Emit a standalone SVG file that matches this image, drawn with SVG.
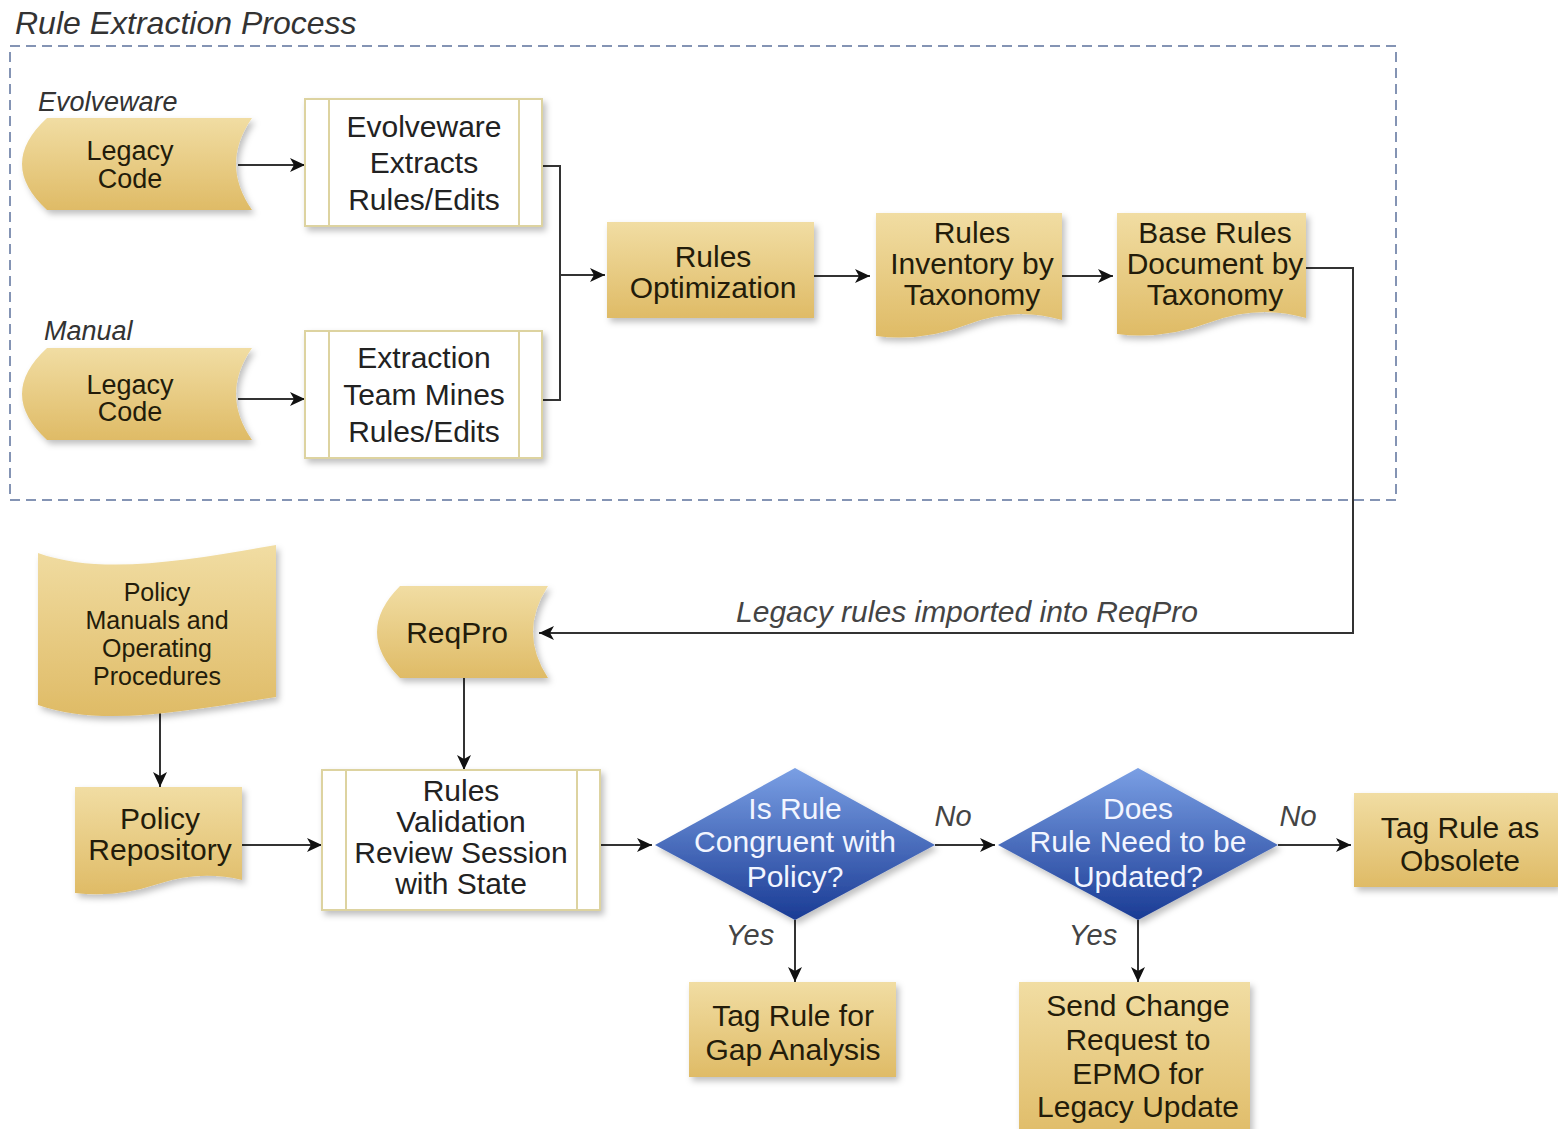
<svg xmlns="http://www.w3.org/2000/svg" width="1558" height="1129" viewBox="0 0 1558 1129">
  <style>
    text { font-family: "Liberation Sans", Arial, sans-serif; text-anchor: middle; }
    .gold { fill: url(#goldGrad); filter: url(#shadow); }
    .proc { fill: #ffffff; stroke: #ddd3a0; stroke-width: 2; filter: url(#shadow); }
    .procline { stroke: #ddd3a0; stroke-width: 2; fill: none; }
    .dia { fill: url(#blueGrad); filter: url(#shadow); }
    .t-gold { font-size: 30px; fill: #231c0a; }
    .t-proc { font-size: 30px; fill: #222222; }
    .t-dia { font-size: 30px; fill: #f2f5ff; }
    .lbl { font-size: 29px; font-style: italic; fill: #444444; }
    .lane { font-size: 27px; font-style: italic; fill: #333333; text-anchor: start; }
    .edge { stroke: #333333; stroke-width: 2; fill: none; }
  </style>
  <defs>
    <linearGradient id="goldGrad" x1="0" y1="0" x2="0" y2="1">
      <stop offset="0" stop-color="#f1dda3"/>
      <stop offset="1" stop-color="#dfbb66"/>
    </linearGradient>
    <linearGradient id="blueGrad" x1="0" y1="0" x2="0" y2="1">
      <stop offset="0" stop-color="#7a9fe4"/>
      <stop offset="1" stop-color="#1a3b94"/>
    </linearGradient>
    <filter id="shadow" x="-10%" y="-10%" width="125%" height="130%">
      <feDropShadow dx="3" dy="4" stdDeviation="3" flood-color="#000000" flood-opacity="0.25"/>
    </filter>
    <marker id="arrow" markerUnits="userSpaceOnUse" markerWidth="16" markerHeight="14" refX="15" refY="7" orient="auto">
      <path d="M0,0 L15,7 L0,14 L4,7 Z" fill="#111111"/>
    </marker>
  </defs>

  <!-- Title and container -->
  <text x="15" y="34" style="font-size:32px;font-style:italic;fill:#333;text-anchor:start">Rule Extraction Process</text>
  <rect id="container" x="10" y="46" width="1386" height="454" fill="none" stroke="#8494b4" stroke-width="2" stroke-dasharray="10 6"/>

  <text class="lane" x="38" y="111">Evolveware</text>
  <text class="lane" x="44" y="340">Manual</text>

  <!-- Connectors -->
  <g id="connectors">
    <line class="edge" x1="238" y1="165" x2="305" y2="165" marker-end="url(#arrow)"/>
    <line class="edge" x1="238" y1="399" x2="305" y2="399" marker-end="url(#arrow)"/>
    <path class="edge" d="M542,166 H560 V400 H542"/>
    <line class="edge" x1="560" y1="275" x2="605" y2="275" marker-end="url(#arrow)"/>
    <line class="edge" x1="814" y1="276" x2="870" y2="276" marker-end="url(#arrow)"/>
    <line class="edge" x1="1062" y1="276" x2="1113" y2="276" marker-end="url(#arrow)"/>
    <path class="edge" d="M1306,268 H1353 V633 H539" marker-end="url(#arrow)"/>
    <line class="edge" x1="464" y1="678" x2="464" y2="770" marker-end="url(#arrow)"/>
    <line class="edge" x1="160" y1="710" x2="160" y2="787" marker-end="url(#arrow)"/>
    <line class="edge" x1="242" y1="845" x2="322" y2="845" marker-end="url(#arrow)"/>
    <line class="edge" x1="600" y1="845" x2="652" y2="845" marker-end="url(#arrow)"/>
    <line class="edge" x1="935" y1="845" x2="995" y2="845" marker-end="url(#arrow)"/>
    <line class="edge" x1="1278" y1="845" x2="1351" y2="845" marker-end="url(#arrow)"/>
    <line class="edge" x1="795" y1="920" x2="795" y2="982" marker-end="url(#arrow)"/>
    <line class="edge" x1="1138" y1="920" x2="1138" y2="982" marker-end="url(#arrow)"/>
    <text class="lbl" style="font-size:30px" x="967" y="622">Legacy rules imported into ReqPro</text>
    <text class="lbl" x="953" y="826">No</text>
    <text class="lbl" x="1298" y="826">No</text>
    <text class="lbl" x="750" y="945">Yes</text>
    <text class="lbl" x="1093" y="945">Yes</text>
  </g>

  <!-- Stored data: legacy code (Evolveware) -->
  <g id="legacy-code-1">
    <path class="gold" d="M47,118 H252 Q220,164 252,210 H47 Q-3,164 47,118 Z"/>
    <text class="t-gold" style="font-size:27px" x="130" y="160">Legacy</text>
    <text class="t-gold" style="font-size:27px" x="130" y="188">Code</text>
  </g>

  <!-- Stored data: legacy code (Manual) -->
  <g id="legacy-code-2">
    <path class="gold" d="M47,348 H252 Q220,394 252,440 H47 Q-3,394 47,348 Z"/>
    <text class="t-gold" style="font-size:27px" x="130" y="394">Legacy</text>
    <text class="t-gold" style="font-size:27px" x="130" y="421">Code</text>
  </g>

  <g id="evolveware-extracts">
    <rect class="proc" x="305" y="99" width="237" height="127"/>
    <path class="procline" d="M329,99 V226 M519,99 V226"/>
    <text class="t-proc" x="424" y="137">Evolveware</text>
    <text class="t-proc" x="424" y="173">Extracts</text>
    <text class="t-proc" x="424" y="210">Rules/Edits</text>
  </g>

  <g id="team-mines">
    <rect class="proc" x="305" y="331" width="237" height="127"/>
    <path class="procline" d="M329,331 V458 M519,331 V458"/>
    <text class="t-proc" x="424" y="368">Extraction</text>
    <text class="t-proc" x="424" y="405">Team Mines</text>
    <text class="t-proc" x="424" y="442">Rules/Edits</text>
  </g>

  <g id="rules-optimization">
    <rect class="gold" x="607" y="222" width="207" height="96"/>
    <text class="t-gold" x="713" y="267">Rules</text>
    <text class="t-gold" x="713" y="298">Optimization</text>
  </g>

  <g id="rules-inventory">
    <path class="gold" d="M876,213 H1062 V320 Q1015,306 969,324 T876,336 Z"/>
    <text class="t-gold" x="972" y="243">Rules</text>
    <text class="t-gold" x="972" y="274">Inventory by</text>
    <text class="t-gold" x="972" y="305">Taxonomy</text>
  </g>

  <g id="base-rules-document">
    <path class="gold" d="M1117,213 H1306 V318 Q1259,304 1211,322 T1117,334 Z"/>
    <text class="t-gold" x="1215" y="243">Base Rules</text>
    <text class="t-gold" x="1215" y="274">Document by</text>
    <text class="t-gold" x="1215" y="305">Taxonomy</text>
  </g>

  <g id="policy-manuals">
    <path class="gold" d="M38,553 C100,575 180,562 276,545 V697 C180,712 100,727 38,705 Z"/>
    <text class="t-gold" style="font-size:25px" x="157" y="601">Policy</text>
    <text class="t-gold" style="font-size:25px" x="157" y="629">Manuals and</text>
    <text class="t-gold" style="font-size:25px" x="157" y="657">Operating</text>
    <text class="t-gold" style="font-size:25px" x="157" y="685">Procedures</text>
  </g>

  <g id="reqpro">
    <path class="gold" d="M400,586 H548 Q518,632 548,678 H400 Q354,632 400,586 Z"/>
    <text class="t-gold" x="457" y="643">ReqPro</text>
  </g>

  <g id="policy-repository">
    <path class="gold" d="M75,787 H242 V880 Q200,870 158,884 T75,893 Z"/>
    <text class="t-gold" x="160" y="829">Policy</text>
    <text class="t-gold" x="160" y="860">Repository</text>
  </g>

  <g id="rules-validation">
    <rect class="proc" x="322" y="770" width="278" height="140"/>
    <path class="procline" d="M346,770 V910 M577,770 V910"/>
    <text class="t-proc" x="461" y="801">Rules</text>
    <text class="t-proc" x="461" y="832">Validation</text>
    <text class="t-proc" x="461" y="863">Review Session</text>
    <text class="t-proc" x="461" y="894">with State</text>
  </g>

  <g id="congruent-decision">
    <path class="dia" d="M795,768 L935,845 L795,920 L655,845 Z"/>
    <text class="t-dia" x="795" y="819">Is Rule</text>
    <text class="t-dia" x="795" y="852">Congruent with</text>
    <text class="t-dia" x="795" y="887">Policy?</text>
  </g>

  <g id="update-decision">
    <path class="dia" d="M1138,768 L1278,845 L1138,920 L998,845 Z"/>
    <text class="t-dia" x="1138" y="819">Does</text>
    <text class="t-dia" x="1138" y="852">Rule Need to be</text>
    <text class="t-dia" x="1138" y="887">Updated?</text>
  </g>

  <g id="tag-obsolete">
    <rect class="gold" x="1354" y="793" width="204" height="94"/>
    <text class="t-gold" x="1460" y="838">Tag Rule as</text>
    <text class="t-gold" x="1460" y="871">Obsolete</text>
  </g>

  <g id="tag-gap-analysis">
    <rect class="gold" x="689" y="982" width="207" height="95"/>
    <text class="t-gold" x="793" y="1026">Tag Rule for</text>
    <text class="t-gold" x="793" y="1060">Gap Analysis</text>
  </g>

  <g id="send-change-request">
    <rect class="gold" x="1019" y="982" width="231" height="160"/>
    <text class="t-gold" x="1138" y="1016">Send Change</text>
    <text class="t-gold" x="1138" y="1050">Request to</text>
    <text class="t-gold" x="1138" y="1084">EPMO for</text>
    <text class="t-gold" x="1138" y="1117">Legacy Update</text>
  </g>
</svg>
